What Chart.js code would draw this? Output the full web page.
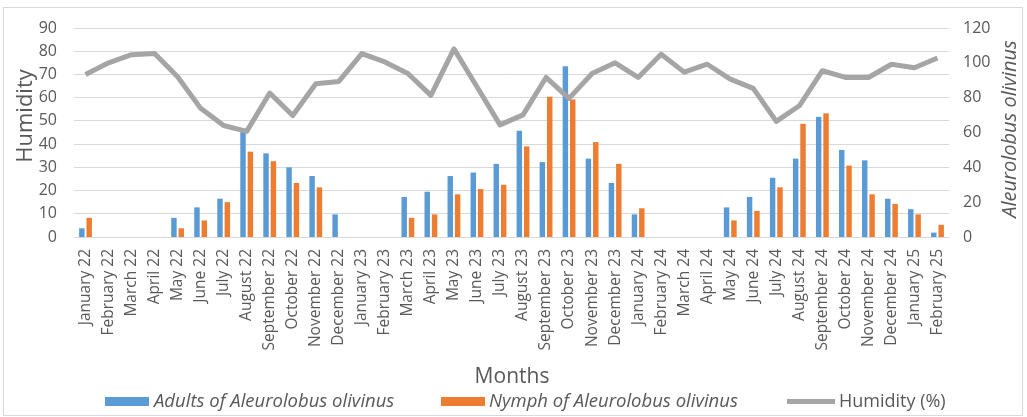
<!DOCTYPE html>
<html><head><meta charset="utf-8">
<script src="https://cdn.jsdelivr.net/npm/chart.js@4"></script>
<style>html,body{margin:0;padding:0;background:#fff;}#wrap{width:1027px;height:417px;position:relative}</style>
</head><body><div id="wrap"><canvas id="c" width="1027" height="417"></canvas></div>
<script>
const months = ["January 22","February 22","March 22","April 22","May 22","June 22","July 22","August 22","September 22","October 22","November 22","December 22",
"January 23","February 23","March 23","April 23","May 23","June 23","July 23","August 23","September 23","October 23","November 23","December 23",
"January 24","February 24","March 24","April 24","May 24","June 24","July 24","August 24","September 24","October 24","November 24","December 24",
"January 25","February 25"];
const adults = [5,null,null,null,11,17,22,61,48,40,35,13,null,null,23,26,35,37,42,61,43,98,45,31,13,null,null,null,17,23,34,45,69,50,44,22,16,2.5];
const nymphs = [11,null,null,null,5,9.5,20,49,43.5,31,28.5,null,null,null,11,13,24.5,27.5,30,52,80.5,79,54.5,42,16.5,null,null,null,9.5,15,28.5,65,71,41,24.5,19,13,7];
const humidity = [70,75,78.5,79,69,55.4,48,45.5,62,52.3,66,67,79,75.4,70.4,61,81,64.7,48.3,52.6,68.7,59.7,70.4,75,68.7,78.7,71,74.4,68,64,49.8,56.5,71.6,68.7,68.7,74.4,72.9,77.1];
const humidityAxis = {min:0, max:90, step:10};
const insectAxis = {min:0, max:120, step:20};
const labelsText = {left:"Humidity", right:"Aleurolobus olivinus", x:"Months",
  adults:"Adults of Aleurolobus olivinus", nymphs:"Nymph of Aleurolobus olivinus", hum:"Humidity (%)"};

const COL_BLUE = '#5b9bd5', COL_ORANGE = '#ed7d31', COL_GREY = '#a5a5a5', TXT = '#595959';

const deco = {
  id: 'deco',
  afterDraw(chart){
    const ctx = chart.ctx;
    ctx.save();
    ctx.strokeStyle = '#d9d9d9'; ctx.lineWidth = 1;
    ctx.strokeRect(3.5, 7.5, 1019, 408);
    ctx.fillStyle = TXT;
    ctx.textAlign = 'center'; ctx.textBaseline = 'middle';
    ctx.save(); ctx.translate(26,116); ctx.rotate(-Math.PI/2);
    ctx.font = '22px "Open Sans"'; ctx.fillText(labelsText.left,0,0); ctx.restore();
    ctx.save(); ctx.translate(1010,129); ctx.rotate(-Math.PI/2);
    ctx.font = 'italic 20px "Open Sans"'; ctx.fillText(labelsText.right,0,0); ctx.restore();
    ctx.font = '21px "Open Sans"'; ctx.fillText(labelsText.x,512,377);
    // legend
    const ly = 401.5;
    ctx.textAlign = 'left';
    ctx.fillStyle = COL_BLUE; ctx.fillRect(105, 397, 44, 9);
    ctx.fillStyle = TXT; ctx.font = 'italic 18.5px "Open Sans"'; ctx.fillText(labelsText.adults, 154, ly);
    ctx.fillStyle = COL_ORANGE; ctx.fillRect(441, 397, 44, 9);
    ctx.fillStyle = TXT; ctx.fillText(labelsText.nymphs, 489, ly);
    ctx.strokeStyle = COL_GREY; ctx.lineWidth = 5; ctx.lineCap='butt';
    ctx.beginPath(); ctx.moveTo(787, ly); ctx.lineTo(835, ly); ctx.stroke();
    ctx.fillStyle = TXT; ctx.font = '18px "Open Sans"'; ctx.fillText(labelsText.hum, 839, ly);
    ctx.restore();
  }
};

new Chart(document.getElementById('c'), {
  type: 'bar',
  data: {
    labels: months,
    datasets: [
      {type:'line', label:labelsText.hum, data:humidity, yAxisID:'y', borderColor:COL_GREY, borderWidth:5, pointRadius:0, tension:0, order:0, fill:false, borderJoinStyle:'round'},
      {type:'bar', label:labelsText.adults, data:adults, yAxisID:'y1', backgroundColor:COL_BLUE, categoryPercentage:0.64, barPercentage:0.74, order:1},
      {type:'bar', label:labelsText.nymphs, data:nymphs, yAxisID:'y1', backgroundColor:COL_ORANGE, categoryPercentage:0.64, barPercentage:0.74, order:1}
    ]
  },
  options: {
    responsive:false, animation:false, devicePixelRatio:1,
    layout:{padding:{top:28,left:0,right:0,bottom:0}},
    plugins:{legend:{display:false}, tooltip:{enabled:false}},
    scales:{
      x:{
        grid:{display:false, drawTicks:false}, border:{display:false},
        ticks:{color:TXT, font:{family:'"Open Sans"', size:15.5}, maxRotation:90, minRotation:90, padding:12, autoSkip:false},
        afterFit(s){ s.height = 180; }
      },
      y:{
        position:'left', min:humidityAxis.min, max:humidityAxis.max,
        grid:{color:'#d9d9d9', drawTicks:false}, border:{display:false},
        ticks:{stepSize:humidityAxis.step, color:TXT, font:{family:'"Open Sans"', size:16}, padding:17},
        afterFit(s){ s.width = 74; }
      },
      y1:{
        position:'right', min:insectAxis.min, max:insectAxis.max,
        grid:{display:false, drawTicks:false}, border:{display:false},
        ticks:{stepSize:insectAxis.step, color:TXT, font:{family:'"Open Sans"', size:16}, padding:14},
        afterFit(s){ s.width = 78; }
      }
    }
  },
  plugins:[deco]
});
</script></body></html>
